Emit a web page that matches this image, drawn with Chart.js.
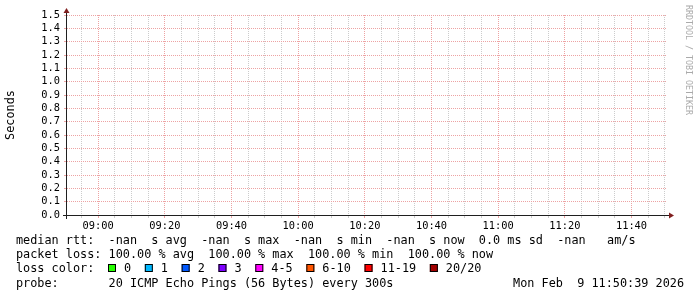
<!DOCTYPE html>
<html>
<head>
<meta charset="utf-8">
<title>SmokePing median rtt</title>
<script src="https://cdn.jsdelivr.net/npm/chart.js@4.4.1/dist/chart.umd.min.js"></script>
<style>
  html, body { margin: 0; padding: 0; background: #fff; }
  #wrap { position: relative; width: 697px; height: 297px; }
</style>
</head>
<body>
<div id="wrap"><canvas id="rttChart" width="697" height="297"></canvas></div>
<script>
// time axis, minutes since midnight (08:50:39 .. 11:50:39)
const startMin = 8 * 60 + 50 + 39 / 60;
const endMin = 11 * 60 + 50 + 39 / 60;
const timeLabels = ['09:00', '09:20', '09:40', '10:00', '10:20', '10:40', '11:00', '11:20', '11:40'];
const yTicks = [0.0, 0.1, 0.2, 0.3, 0.4, 0.5, 0.6, 0.7, 0.8, 0.9, 1.0, 1.1, 1.2, 1.3, 1.4, 1.5];

// 100% packet loss the whole window: no median rtt samples at all
const medianRtt = [];

const statNames = ['avg', 'max', 'min', 'now'];
const rttStats = ['-nan', '-nan', '-nan', '-nan'];
const rttSd = '0.0';
const rttAmS = '-nan';
const lossStats = [100, 100, 100, 100];

const lossLabels = ['0', '1', '2', '3', '4-5', '6-10', '11-19', '20/20'];
const lossColors = ['#26ff00', '#00b8ff', '#0059ff', '#7e00ff', '#ff00ff', '#ff5500', '#ff0000', '#a10000'];

const probeText = '20 ICMP Echo Pings (56 Bytes) every 300s';
const dateText = 'Mon Feb  9 11:50:39 2026';
const yTitle = 'Seconds';
const watermark = 'RRDTOOL / TOBI OETIKER';

const MONO = '"DejaVu Sans Mono", monospace';
const legendFont = '11.83px ' + MONO;
const axisFont = { family: MONO, size: 10.35 };
const majorGrid = '#eda3a3';
const minorGrid = '#cccccc';

function minToLabel(m) {
  const h = Math.floor(m / 60), mm = Math.round(m % 60);
  return String(h).padStart(2, '0') + ':' + String(mm).padStart(2, '0');
}
const isMajor = v => timeLabels.includes(minToLabel(v));

// grid every 5 minutes, labels every 20
const xTicks = [];
for (let m = Math.ceil(startMin / 5) * 5; m <= endMin; m += 5) xTicks.push(m);

const rrdDecor = {
  id: 'rrdDecor',
  afterDraw(chart) {
    const { ctx, chartArea: a } = chart;
    ctx.save();

    // axes
    ctx.strokeStyle = '#1f1f1f';
    ctx.lineWidth = 1;
    ctx.beginPath();
    ctx.moveTo(a.left - 4, a.bottom + 0.5);
    ctx.lineTo(a.right + 4, a.bottom + 0.5);
    ctx.moveTo(a.left - 0.5, a.bottom + 4);
    ctx.lineTo(a.left - 0.5, a.top - 4);
    ctx.stroke();

    // arrows
    ctx.fillStyle = '#801f1f';
    ctx.beginPath();
    ctx.moveTo(a.right + 2, a.bottom - 3 + 0.5);
    ctx.lineTo(a.right + 2, a.bottom + 3 + 0.5);
    ctx.lineTo(a.right + 7, a.bottom + 0.5);
    ctx.closePath();
    ctx.fill();
    ctx.beginPath();
    ctx.moveTo(a.left - 3.5, a.top - 2);
    ctx.lineTo(a.left + 2.5, a.top - 2);
    ctx.lineTo(a.left - 0.5, a.top - 7);
    ctx.closePath();
    ctx.fill();

    // unit title
    ctx.fillStyle = '#000';
    ctx.font = legendFont;
    ctx.textAlign = 'center';
    ctx.textBaseline = 'middle';
    ctx.save();
    ctx.translate(11, (a.top + a.bottom) / 2);
    ctx.rotate(-Math.PI / 2);
    ctx.fillText(yTitle, 0, 0);
    ctx.restore();

    // watermark
    ctx.save();
    ctx.font = '8.3px ' + MONO;
    ctx.fillStyle = '#aaaaaa';
    ctx.textAlign = 'left';
    ctx.translate(688, 5);
    ctx.rotate(Math.PI / 2);
    ctx.fillText(watermark, 0, 0);
    ctx.restore();

    // legend rows
    ctx.font = legendFont;
    ctx.textAlign = 'left';
    ctx.textBaseline = 'alphabetic';
    const x0 = 16;
    const row1 = 'median rtt: ' +
      rttStats.map((v, i) => v.padStart(5) + '  s ' + statNames[i]).join(' ') +
      '  ' + rttSd + ' ms sd  ' + rttAmS + '   am/s';
    const row2 = 'packet loss: ' +
      lossStats.map((v, i) => v.toFixed(2) + ' % ' + statNames[i]).join('  ');
    ctx.fillText(row1, x0, 244.2);
    ctx.fillText(row2, x0, 258.2);
    ctx.fillText('loss color:', x0, 272.2);

    const cw = ctx.measureText('0').width;
    let bx = 108;
    lossLabels.forEach((lab, i) => {
      ctx.fillStyle = lossColors[i];
      ctx.fillRect(bx, 264, 8, 8);
      ctx.strokeStyle = '#000';
      ctx.strokeRect(bx + 0.5, 264.5, 7, 7);
      ctx.fillStyle = '#000';
      ctx.fillText(lab, bx + 16, 272.2);
      bx += 16 + lab.length * cw + 13.7;
    });

    ctx.fillText('probe:       ' + probeText, x0, 286.8);
    ctx.textAlign = 'right';
    ctx.fillText(dateText, 684, 286.8);
    ctx.restore();
  }
};

const ctx = document.getElementById('rttChart');
new Chart(ctx, {
  type: 'line',
  data: {
    datasets: [{
      label: 'median rtt',
      data: medianRtt,
      borderColor: '#26ff00',
      pointRadius: 0
    }]
  },
  options: {
    responsive: false,
    animation: false,
    layout: { padding: { left: 0, right: 30, top: 15, bottom: 0 } },
    plugins: {
      legend: { display: false },
      tooltip: { enabled: false }
    },
    scales: {
      x: {
        type: 'linear',
        min: startMin,
        max: endMin,
        // the scale box takes the whole area below the plot (legend is drawn there too)
        afterFit: s => { s.height = 82; },
        afterBuildTicks: s => { s.ticks = xTicks.map(v => ({ value: v })); },
        ticks: {
          autoSkip: false,
          maxRotation: 0,
          font: axisFont,
          color: '#000',
          padding: 2,
          callback: v => isMajor(v) ? minToLabel(v) : ''
        },
        grid: {
          color: c => (c.tick && isMajor(c.tick.value)) ? majorGrid : minorGrid,
          tickColor: c => (c.tick && isMajor(c.tick.value)) ? majorGrid : minorGrid,
          tickLength: 3
        },
        border: { display: false, dash: [1, 1] }
      },
      y: {
        min: 0,
        max: 1.5,
        afterFit: s => { s.width = 67; },
        afterBuildTicks: s => { s.ticks = yTicks.map(v => ({ value: v })); },
        ticks: {
          autoSkip: false,
          font: axisFont,
          color: '#000',
          padding: 4,
          callback: v => v.toFixed(1)
        },
        grid: { color: majorGrid, tickColor: majorGrid, tickLength: 3 },
        border: { display: false, dash: [1, 1] }
      }
    }
  },
  plugins: [rrdDecor]
});
</script>
</body>
</html>
